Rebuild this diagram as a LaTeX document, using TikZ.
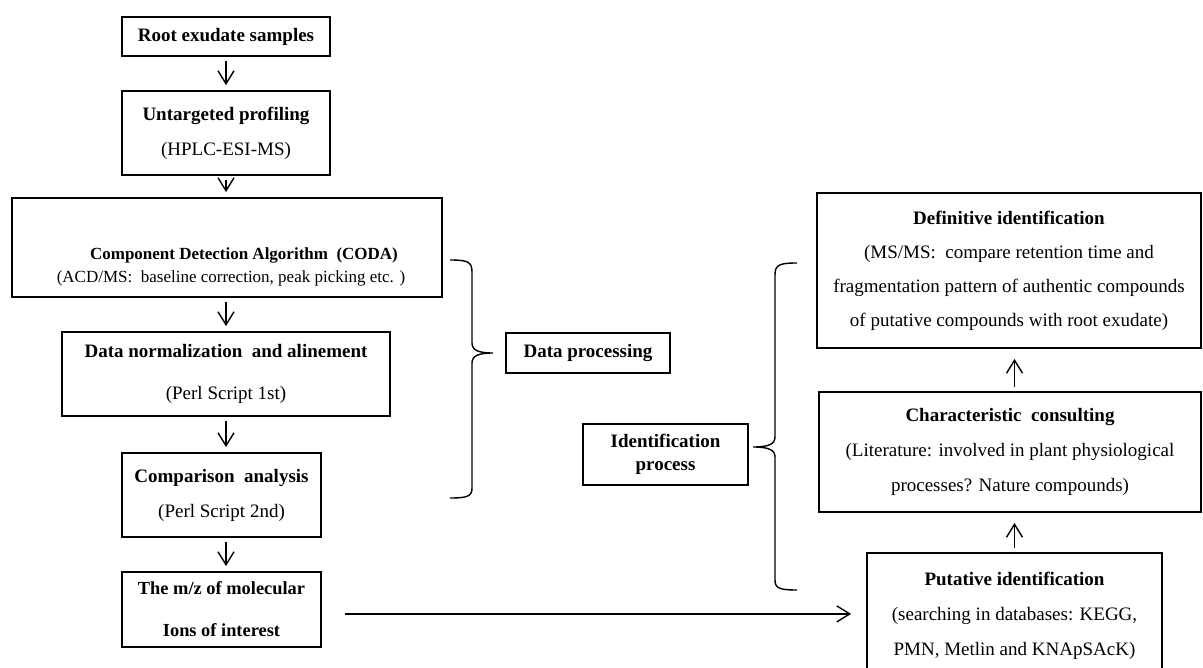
\documentclass[tikz,border=0pt]{standalone}
\usepackage{fontspec}
\setmainfont{Liberation Serif}
\usetikzlibrary{arrows.meta}

\begin{document}
\begin{tikzpicture}[x=0.5pt,y=-0.5pt,
    box/.style={
% The shape:
rectangle,
% The border:
draw, line width=0.9pt,
% The text:
align=center, inner sep=0pt,
font=\fontsize{9.5}{17.5}\selectfont
},
    flow/.style={
% The arrow:
-{Straight Barb[length=6.5pt,width=8pt]},
line width=0.7pt,
shorten <=2pt, shorten >=2.5pt
},
    brace/.style={line width=0.7pt},
]
  \useasboundingbox (0,0) rectangle (1203,668);

  % left column
  \node[box, minimum width=104pt, minimum height=19.5pt] (root)  at (226,36.5)  {\textbf{Root exudate samples}};
  \node[box, minimum width=104pt, minimum height=42pt]   (untar) at (226,133)   {\textbf{Untargeted profiling}\\(HPLC-ESI-MS)};
  \node[box, minimum width=215pt, minimum height=49.5pt,
        font=\fontsize{8.5}{11.5}\selectfont]           (coda)  at (227,247.5) {\mbox{}\\[13.5pt]\hspace*{17pt}\textbf{Component Detection Algorithm\ \ (CODA)}\\\hspace*{4pt}(ACD/MS:\ \ baseline correction, peak picking etc. )};
  \node[box, minimum width=164pt, minimum height=42pt,
        font=\fontsize{9.5}{21}\selectfont]             (norm)  at (226,374)   {\textbf{Data normalization\ \ and alinement}\\(Perl Script 1st)};
  \node[box, minimum width=99.5pt, minimum height=42pt]  (comp)  at (221.5,495) {\textbf{Comparison\ \ analysis}\\(Perl Script 2nd)};
  \node[box, minimum width=99.5pt, minimum height=37.5pt,
        font=\fontsize{9.2}{21}\selectfont]             (mz)    at (221.5,609.5) {\textbf{The m/z of molecular}\\\textbf{Ions of interest}};

  % labels of the braces
  \node[box, minimum width=82pt, minimum height=20pt]    (dproc) at (588,353)   {\textbf{Data processing}};
  \node[box, minimum width=82.5pt, minimum height=30.5pt,
        font=\fontsize{9.5}{11.5}\selectfont]           (iproc) at (665.5,454.5) {\textbf{Identification}\\\textbf{process}};

  % right column
  \node[box, minimum width=192pt, minimum height=77.5pt,
        font=\fontsize{9.5}{17}\selectfont]             (defin) at (1009,270.5) {\textbf{Definitive identification}\\(MS/MS:\ \ compare retention time and\\fragmentation pattern of authentic compounds\\of putative compounds with root exudate)};
  \node[box, minimum width=191pt, minimum height=60pt]   (chara) at (1010,452)  {\textbf{Characteristic\ \ consulting}\\(Literature: involved in plant physiological\\processes? Nature compounds)};
  \node[box, minimum width=147.5pt, minimum height=63pt] (puta)  at (1014.5,616) {\textbf{Putative identification}\\(searching in databases: KEGG,\\PMN, Metlin and KNApSAcK)};

  % flow
  \draw[flow] (root)  -- (untar);
  \draw[flow] (untar) -- (untar |- coda.north);
  \draw[flow] (coda.south -| root) -- (norm.north -| root);
  \draw[flow] (norm.south -| root) -- (comp.north -| root);
  \draw[flow] (comp.south -| root) -- (mz.north -| root);
  \draw[flow, shorten <=11.5pt, shorten >=7.5pt] ([yshift=-2.2pt]mz.east) -- ([yshift=-2.2pt]mz.east -| puta.west);
  \draw[flow, shorten >=5pt] (puta.north) -- (puta.north |- chara.south);
  \draw[flow, shorten >=5pt] (puta.north |- chara.north) -- (puta.north |- defin.south);

  % braces
  \draw[brace] (450,260) .. controls (468,260) and (472,262) .. (472,272) -- (472,343)
    .. controls (472,350) and (478,353) .. (493,353)
    .. controls (478,353) and (472,356) .. (472,363) -- (472,488)
    .. controls (472,496) and (468,498) .. (450,498);
  \draw[brace] (797,263) .. controls (779,263) and (775,265) .. (775,275) -- (775,437)
    .. controls (775,444) and (769,447) .. (753,447)
    .. controls (769,447) and (775,450) .. (775,457) -- (775,580)
    .. controls (775,588) and (779,590) .. (797,590);
\end{tikzpicture}
\end{document}
